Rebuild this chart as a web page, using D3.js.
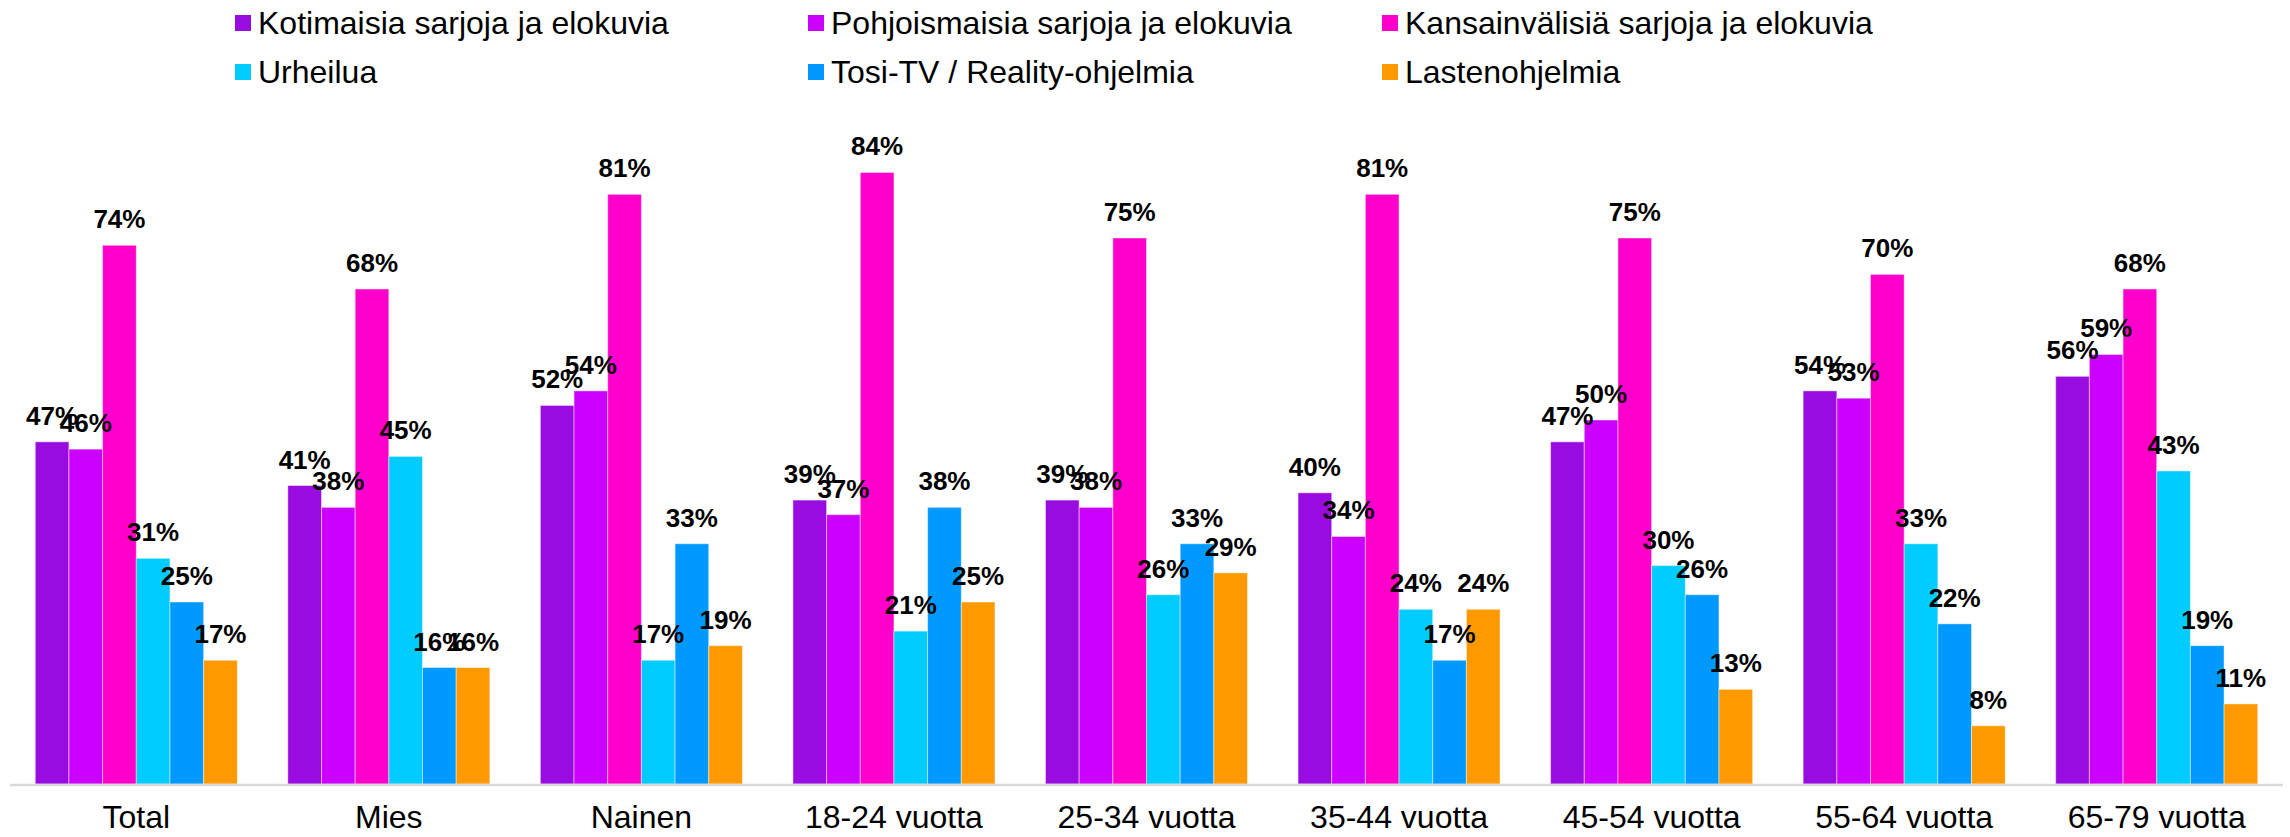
<!doctype html>
<html lang="fi">
<head>
    <meta charset="utf-8">
    <title>Katsotut ohjelmatyypit</title>
    <script src="https://cdnjs.cloudflare.com/ajax/libs/d3/7.8.5/d3.min.js"></script>
    <style>
        body { margin: 0; background: #fff; }
        #chart text { font-family: "Liberation Sans", Arial, sans-serif; fill: #000; }
    </style>
</head>
<body>
    <div id="chart"></div>
    <script>
        // categories and series
        var categories = ["Total", "Mies", "Nainen", "18-24 vuotta", "25-34 vuotta",
            "35-44 vuotta", "45-54 vuotta", "55-64 vuotta", "65-79 vuotta"];
        var seriesNames = ["Kotimaisia sarjoja ja elokuvia", "Pohjoismaisia sarjoja ja elokuvia",
            "Kansainvälisiä sarjoja ja elokuvia", "Urheilua", "Tosi-TV / Reality-ohjelmia", "Lastenohjelmia"];
        var seriesColors = ["#990ce0", "#cc00ff", "#ff00cc", "#00ccff", "#0099ff", "#ff9900"];

        // values in percent, one array per series (order = categories)
        var kotimaisia     = [47, 41, 52, 39, 39, 40, 47, 54, 56];
        var pohjoismaisia  = [46, 38, 54, 37, 38, 34, 50, 53, 59];
        var kansainvalisia = [74, 68, 81, 84, 75, 81, 75, 70, 68];
        var urheilua       = [31, 45, 17, 21, 26, 24, 30, 33, 43];
        var tosiTv         = [25, 16, 33, 38, 33, 17, 26, 22, 19];
        var lasten         = [17, 16, 19, 25, 29, 24, 13, 8, 11];
        var seriesValues = [kotimaisia, pohjoismaisia, kansainvalisia, urheilua, tosiTv, lasten];

        var width = 2290, height = 837;
        var baseline = 784, top100 = 56;

        var svg = d3.select("#chart").append("svg")
            .attr("width", width)
            .attr("height", height);

        var x0 = d3.scaleBand()
            .domain(categories)
            .range([10, 2283])
            .paddingInner(0.2)
            .paddingOuter(0.1);

        var x1 = d3.scaleBand()
            .domain(d3.range(seriesNames.length))
            .range([0, x0.bandwidth()]);

        var y = d3.scaleLinear()
            .domain([0, 100])
            .range([baseline, top100]);

        // bars
        var group = svg.selectAll("g.cat")
            .data(categories)
            .enter().append("g")
            .attr("class", "cat")
            .attr("transform", function(d) { return "translate(" + x0(d) + ",0)"; });

        group.selectAll("rect")
            .data(function(d, i) { return seriesValues.map(function(s, k) { return { k: k, v: s[i] }; }); })
            .enter().append("rect")
            .attr("x", function(d) { return x1(d.k); })
            .attr("y", function(d) { return y(d.v); })
            .attr("width", x1.bandwidth())
            .attr("height", function(d) { return baseline - y(d.v); })
            .attr("fill", function(d) { return seriesColors[d.k]; })
            .attr("stroke", "rgba(255,255,255,0.45)")
            .attr("stroke-width", 1);

        // value labels
        group.selectAll("text.val")
            .data(function(d, i) { return seriesValues.map(function(s, k) { return { k: k, v: s[i] }; }); })
            .enter().append("text")
            .attr("class", "val")
            .attr("x", function(d) { return x1(d.k) + x1.bandwidth() / 2; })
            .attr("y", function(d) { return y(d.v) - 17; })
            .attr("text-anchor", "middle")
            .style("font-size", "26px")
            .style("font-weight", "bold")
            .text(function(d) { return d.v + "%"; });

        // x axis
        var xAxis = svg.append("g")
            .attr("transform", "translate(0," + baseline + ")")
            .call(d3.axisBottom(x0).tickSize(0).tickPadding(21));
        xAxis.select(".domain").attr("stroke", "#d9d9d9").attr("stroke-width", 2.5)
            .attr("d", "M10,1H2283");
        xAxis.selectAll("text")
            .style("font-size", "32px")
            .attr("dy", "0.71em");

        // legend
        var legendX = [235, 808, 1382];
        var legendY = [23, 72];
        var legend = svg.selectAll("g.legend")
            .data(seriesNames)
            .enter().append("g")
            .attr("class", "legend")
            .attr("transform", function(d, i) {
                return "translate(" + legendX[i % 3] + "," + legendY[Math.floor(i / 3)] + ")";
            });

        legend.append("rect")
            .attr("x", 0)
            .attr("y", -8)
            .attr("width", 16)
            .attr("height", 16)
            .attr("fill", function(d, i) { return seriesColors[i]; });

        legend.append("text")
            .attr("x", 23)
            .attr("y", 0)
            .attr("dy", "0.35em")
            .style("font-size", "32px")
            .text(function(d) { return d; });
    </script>
</body>
</html>
